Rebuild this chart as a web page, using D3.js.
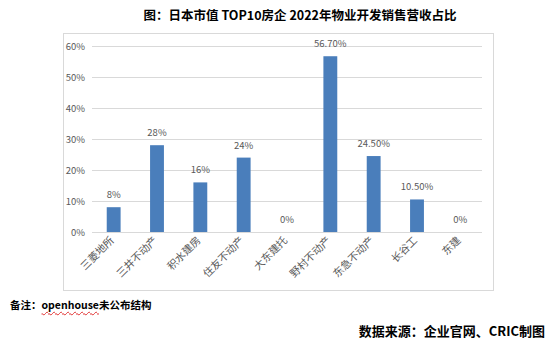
<!DOCTYPE html>
<html>
<head>
<meta charset="utf-8">
<script src="https://cdn.jsdelivr.net/npm/d3@7"></script>
<style>
  body { margin: 0; background: #fff; }
  #wrap { position: relative; width: 557px; height: 352px; }
  .note { position: absolute; font-family: "Noto Sans CJK SC", sans-serif; font-weight: bold; color: #000; }
  .wavy { text-decoration: underline wavy #e03030; text-decoration-thickness: 1px; text-underline-offset: 2px; }
</style>
</head>
<body>
<div id="wrap">
  <div id="chart"></div>
  <div class="note" style="left:10px; top:297px; font-size:10.5px;">备注：<span class="wavy">openhouse</span>未公布结构</div>
  <div class="note" style="right:12px; top:321px; font-size:13px;">数据来源：企业官网、CRIC制图</div>
</div>
<script>
const categories = ["三菱地所", "三井不动产", "积水建房", "住友不动产", "大东建托", "野村不动产", "东急不动产", "长谷工", "东建"];
const values = [0.08, 0.28, 0.16, 0.24, 0, 0.567, 0.245, 0.105, 0];
const valueLabels = ["8%", "28%", "16%", "24%", "0%", "56.70%", "24.50%", "10.50%", "0%"];
const yTicks = [0, 0.1, 0.2, 0.3, 0.4, 0.5, 0.6];

const W = 557, H = 352;
const box = { x: 63, y: 33, w: 430, h: 257 };
const plot = { left: 92, right: 482, top: 46, bottom: 232 };

const svg = d3.select("#chart").append("svg")
  .attr("width", W).attr("height", H)
  .style("position", "absolute").style("left", 0).style("top", 0);

// Title
svg.append("text")
  .attr("x", 300).attr("y", 20)
  .attr("text-anchor", "middle")
  .attr("font-family", "Noto Sans CJK SC, sans-serif")
  .attr("font-weight", "bold")
  .attr("font-size", "12.5px")
  .text("图：日本市值 TOP10房企 2022年物业开发销售营收占比");

// Chart border
svg.append("rect")
  .attr("x", box.x + 0.5).attr("y", box.y + 0.5)
  .attr("width", box.w).attr("height", box.h)
  .attr("fill", "none").attr("stroke", "#d9d9d9");

const x = d3.scaleBand()
  .domain(categories)
  .range([plot.left, plot.right])
  .paddingInner(0.68).paddingOuter(0.34);

const y = d3.scaleLinear()
  .domain([0, 0.6])
  .range([plot.bottom, plot.top]);

// Gridlines + y labels
const yAxis = svg.append("g")
  .attr("transform", `translate(${plot.left},0)`)
  .call(d3.axisLeft(y).tickValues(yTicks).tickFormat(d3.format(".0%"))
    .tickSize(-(plot.right - plot.left)).tickPadding(7));
yAxis.select(".domain").remove();
yAxis.selectAll("line").attr("stroke", "#d9d9d9");
yAxis.selectAll("text")
  .attr("fill", "#595959")
  .attr("font-family", "Noto Sans CJK SC, sans-serif")
  .attr("font-size", "9.5px");

// Bars
svg.selectAll("rect.bar")
  .data(values)
  .join("rect")
  .attr("class", "bar")
  .attr("x", (d, i) => x(categories[i]))
  .attr("y", d => y(d))
  .attr("width", x.bandwidth())
  .attr("height", d => y(0) - y(d))
  .attr("fill", "#4a7ebb");

// Value labels
svg.selectAll("text.val")
  .data(values)
  .join("text")
  .attr("class", "val")
  .attr("x", (d, i) => x(categories[i]) + x.bandwidth() / 2)
  .attr("y", d => y(d) - 9)
  .attr("text-anchor", "middle")
  .attr("fill", "#595959")
  .attr("font-family", "Noto Sans CJK SC, sans-serif")
  .attr("font-size", "9.5px")
  .text((d, i) => valueLabels[i]);

// X axis labels, rotated
const xAxis = svg.append("g")
  .attr("transform", `translate(0,${plot.bottom})`)
  .call(d3.axisBottom(x).tickSize(0).tickPadding(0));
xAxis.select(".domain").remove();
xAxis.selectAll("text")
  .attr("fill", "#595959")
  .attr("font-family", "Noto Sans CJK SC, sans-serif")
  .attr("font-size", "10.5px")
  .attr("text-anchor", "end")
  .attr("dy", null)
  .attr("y", 0)
  .attr("transform", "translate(1,9) rotate(-45)");
</script>
</body>
</html>
